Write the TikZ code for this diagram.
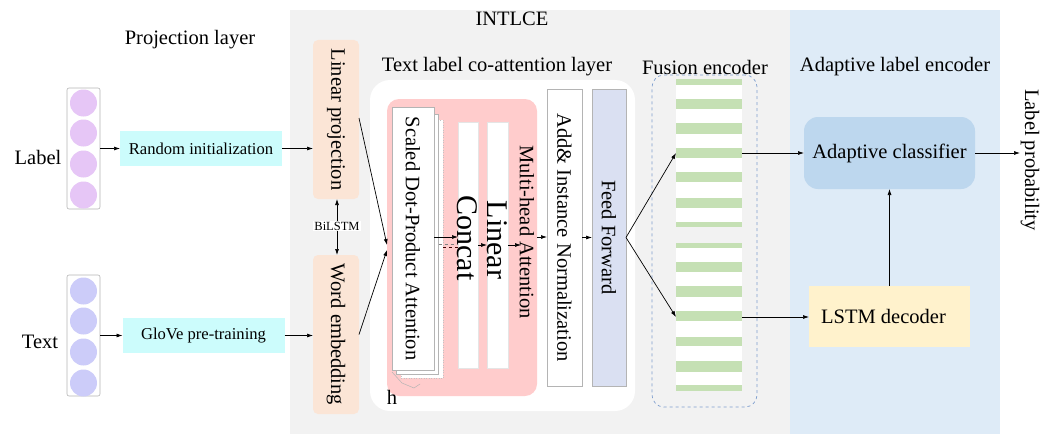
\documentclass[tikz,border=0pt]{standalone}
\usepackage{fontspec}
\setmainfont{Liberation Serif}
\usetikzlibrary{arrows.meta,calc}

\definecolor{panelgray}{HTML}{F2F2F2}
\definecolor{panelblue}{HTML}{DEEBF7}
\definecolor{labeldot}{HTML}{E6C6F6}
\definecolor{textdot}{HTML}{CCCCF9}
\definecolor{cyanfill}{HTML}{CCFCFC}
\definecolor{peach}{HTML}{FBE5D6}
\definecolor{rosefill}{HTML}{FFCCCC}
\definecolor{ffblue}{HTML}{DAE0F2}
\definecolor{clsblue}{HTML}{BDD7EE}
\definecolor{lstmyellow}{HTML}{FFF2CC}
\definecolor{stripe}{HTML}{C5E0B4}
\definecolor{dashblue}{HTML}{7F9FCF}
\definecolor{edgegray}{HTML}{B4B4B4}

\begin{document}
\begin{tikzpicture}[x=1pt,y=-1pt,
  font=\fontsize{20.5}{24}\selectfont,
  arr/.style={-{Latex[length=6pt,width=4pt]}, line width=0.7pt},
  box/.style={inner sep=0pt, outer sep=0pt},
  dotvec/.style={box, draw=edgegray, line width=0.6pt, rounded corners=2pt, fill=white,
                 minimum width=33pt, minimum height=121pt},
  dot/.style={circle, inner sep=0pt, minimum size=27pt},
  prebox/.style={box, fill=cyanfill, minimum width=162pt, minimum height=35pt,
                 font=\fontsize{16.6}{20}\selectfont},
  embbox/.style={box, fill=peach, rounded corners=5pt, minimum width=46pt, minimum height=159pt},
  sheet/.style={box, fill=white, draw=edgegray, line width=0.5pt},
  bar/.style={box, fill=white, draw=white!90!black, line width=0.4pt, minimum width=20pt, minimum height=246pt},
  tallbox/.style={box, draw=edgegray, line width=0.6pt, minimum width=35pt, minimum height=297pt},
]
\useasboundingbox (0,0) rectangle (1055,436);

% panels
\fill[panelgray] (290,10) rectangle (790,434);
\fill[panelblue] (790,10) rectangle (1000,434);

% headings
\node (hProj) at (190,40) {Projection layer};
\node (hIntlce) at (512,19) {INTLCE};
\node (hCoatt) at (497,67) {Text label co-attention layer};
\node (hFusion) at (705,67) {Fusion encoder};
\node (hAdapt) at (895,67) {Adaptive label encoder};

% input vectors
\node (tLabel) at (38,157) {Label};
\node (tText) at (40,342) {Text};
\node[dotvec] (lvec) at (83.5,148.5) {};
\foreach \yy [count=\i] in {103,133,164,195}
  \node[dot, fill=labeldot] (ld\i) at (83.5,\yy) {};
\node[dotvec] (tvec) at (83.5,335.5) {};
\foreach \yy [count=\i] in {291,321,352,383}
  \node[dot, fill=textdot] (td\i) at (83.5,\yy) {};

% projection layer
\node[prebox] (rinit) at (201,148.5) {Random initialization};
\node[prebox] (glove) at (203.5,335.5) {GloVe pre-training};
\node[embbox] (lproj) at (336,119.5) {\rotatebox[origin=c]{-90}{Linear projection}};
\node[embbox] (wemb) at (336,334.5) {\rotatebox[origin=c]{-90}{Word embedding}};
\node[fill=white, inner sep=1pt, font=\fontsize{12.5}{14}\selectfont] (bilstm) at (337,226) {BiLSTM};

\draw[arr] (lvec) -- (rinit);
\draw[arr] (tvec) -- (glove);
\draw[arr] (rinit.east) -- (rinit.east -| lproj.west);
\draw[arr] (glove.east) -- (glove.east -| wemb.west);
\draw[arr] (bilstm.north) -- (bilstm.north |- lproj.south);
\draw[arr] (bilstm.south) -- (bilstm.south |- wemb.north);

% co-attention layer
\node[box, fill=white, rounded corners=20pt, minimum width=265pt, minimum height=331pt] (coatt) at (502.5,245.5) {};
\node[box, fill=rosefill, rounded corners=12pt, minimum width=150pt, minimum height=297pt] (mha) at (462,247.5) {};

\node[sheet, draw=edgegray!80, dotted, minimum width=42pt, minimum height=258pt] (sdpa3) at (422,249) {};
\node[sheet, minimum width=42pt, minimum height=260pt] (sdpa2) at (417.5,244) {};
\node[sheet, minimum width=42pt, minimum height=263pt] (sdpa) at (413,238.5)
  {\rotatebox[origin=c]{-90}{Scaled Dot-Product Attention}};
\draw[edgegray, line width=0.5pt] (392,372) -- (402,383) -- (414,388) -- (420,384);
\node (heads) at (392,397) {h};

\node[bar] (concat) at (468,245) {};
\node[bar, minimum width=21pt] (linear) at (497.5,245) {};
\node[rotate=-90, inner sep=0pt, font=\fontsize{30}{32}\selectfont] (tConcat) at (467.5,238) {Concat};
\node[rotate=-90, inner sep=0pt, font=\fontsize{30}{32}\selectfont] (tLinear) at (497.5,240) {Linear};
\node[rotate=-90, inner sep=0pt] (tMha) at (527,232) {Multi-head Attention};

\draw[arr] ([yshift=1.5pt]sdpa.east) -- ([yshift=1.5pt]sdpa.east -| concat.west);
\draw[dashed, gray, line width=0.7pt] ([yshift=-0.5pt]sdpa2.east) -- ([yshift=-0.5pt]sdpa2.east -| concat.west);
\draw[dashed, black!75!red, line width=0.7pt] ([yshift=1.5pt]sdpa3.east) -- ([yshift=1.5pt]sdpa3.east -| concat.west);
\draw[arr] (concat) -- (linear);
\coordinate (lnout) at (521,245);
\draw[arr] (linear.east) -- (lnout);

\node[tallbox, fill=white] (addn) at (564.5,237.5) {\rotatebox[origin=c]{-90}{Add\& Instance Normalization}};
\node[tallbox, fill=ffblue, minimum width=34pt] (ffwd) at (609,237.5) {\rotatebox[origin=c]{-90}{Feed Forward}};
\draw[arr] ([yshift=10.5pt]mha.east) -- ([yshift=10.5pt]mha.east -| addn.west);
\draw[arr] (addn) -- (ffwd);

% inputs into the co-attention block
\draw[arr] ([yshift=1.5pt]lproj.east) -- ([yshift=2.5pt]mha.west);
\draw[arr] (wemb.east) -- ([yshift=-2.5pt]mha.west);

% fusion encoder
\node[box, draw=dashblue, dashed, line width=0.7pt, rounded corners=12pt, minimum width=105pt, minimum height=332pt] (fusion) at (704.5,241) {};
\node[box, fill=white, minimum width=66pt, minimum height=148pt] (fs1) at (709,153) {};
\node[box, fill=white, minimum width=66pt, minimum height=148pt] (fs2) at (709,317) {};
\foreach \a/\b in {79/85,99/109,123/134,148/158,172/182,198/208,222/227,
                   243/248,262/272,286/297,311/321,337/346,361/372,385/391}
  \fill[stripe] (676,\a) rectangle (742,\b);

\draw[arr] (ffwd.east) -- (fs1.west);
\draw[arr] (ffwd.east) -- (fs2.west);

% adaptive label encoder
\node[box, fill=clsblue, rounded corners=14pt, minimum width=171pt, minimum height=72pt] (acls) at (889.5,153) {Adaptive classifier};
\node[box, fill=lstmyellow, minimum width=161pt, minimum height=61pt] (lstm) at (889.5,316.5) {\hspace*{-12pt}LSTM decoder};
\draw[arr] (fs1.east) -- (fs1.east -| acls.west);
\draw[arr] (fs2.east) -- (fs2.east -| lstm.west);
\draw[arr] (lstm.north) -- (acls.south);

\node[rotate=-90, inner sep=0pt] (lprob) at (1030,160) {Label probability};
\coordinate (pout) at (1020,153);
\draw[arr] (acls.east) -- (pout);
\end{tikzpicture}
\end{document}
